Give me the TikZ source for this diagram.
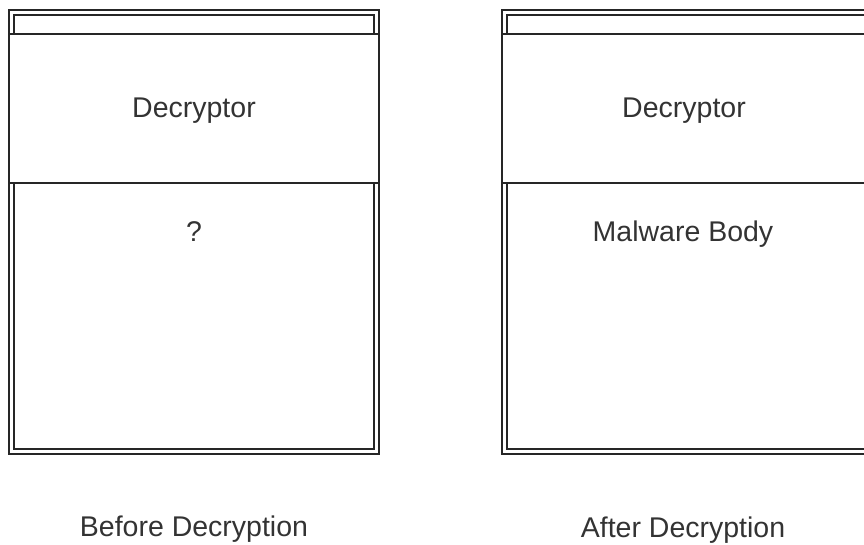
\documentclass[tikz,border=0pt]{standalone}
\usepackage{fontspec}
\setmainfont{Liberation Sans}
\begin{document}
\begin{tikzpicture}[x=1pt,y=-1pt,
  frame/.style={draw=black!85,line width=1.4pt},
  lbl/.style={font=\fontsize{28.5}{32}\selectfont,text=black!80,inner sep=0pt,text height=20pt,text depth=0pt,anchor=center}]
\useasboundingbox (0,0) rectangle (864,544);
\clip (0,0) rectangle (864,544);
% left container
\draw[frame] (9,10) rectangle (379,454);
\draw[frame] (14,15) rectangle (374,449);
\draw[frame,fill=white] (9,34) rectangle (379,183);
\node[lbl] (dec1) at (194,107) {Decryptor};
\node[lbl] (q) at (194,231) {?};
\node[lbl] (before) at (194,526) {Before Decryption};
% right container
\draw[frame] (502,10) rectangle (872,454);
\draw[frame] (507,15) rectangle (867,449);
\draw[frame,fill=white] (502,34) rectangle (872,183);
\node[lbl] (dec2) at (684,107) {Decryptor};
\node[lbl] (body) at (683,231) {Malware Body};
\node[lbl] (after) at (683,527) {After Decryption};
\end{tikzpicture}
\end{document}
